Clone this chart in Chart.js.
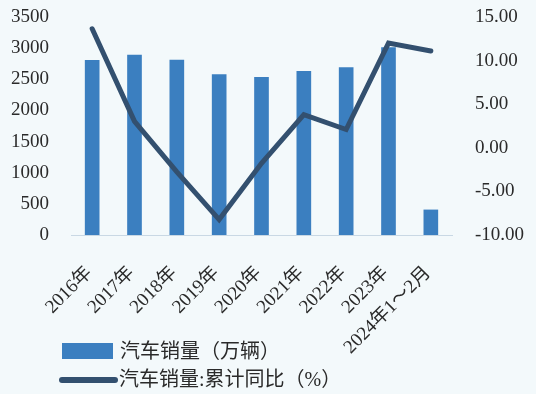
<!DOCTYPE html>
<html><head><meta charset="utf-8">
<script src="https://cdn.jsdelivr.net/npm/chart.js@4.4.1/dist/chart.umd.min.js"></script>
<style>
html,body{margin:0;padding:0;background:#f3f9fb;}
#wrap{position:relative;width:536px;height:394px;}
canvas{position:absolute;left:0;top:0;}
.lg{position:absolute;font-family:"Liberation Serif","Noto Sans CJK SC",serif;font-size:20px;color:#2a2a2a;white-space:nowrap;line-height:20px;}
.sw{position:absolute;}
</style></head>
<body>
<div id="wrap">
<canvas id="c" width="536" height="394"></canvas>
<div class="sw" style="left:62px;top:343px;width:51px;height:16px;background:#3b7fc0;"></div>
<div class="lg" style="left:120px;top:341px;">汽车销量（万辆）</div>
<div class="sw" style="left:59px;top:377px;width:59px;height:6px;border-radius:3px;background:#33506f;"></div>
<div class="lg" style="left:119px;top:369px;">汽车销量:累计同比（%）</div>
</div>
<script>
const categories = ["2016年","2017年","2018年","2019年","2020年","2021年","2022年","2023年","2024年1～2月"];
const salesValues = [2802.8, 2887.9, 2808.1, 2576.9, 2531.1, 2627.5, 2686.4, 3009.4, 402.8];
const growthValues = [13.65, 3.04, -2.76, -8.23, -1.78, 3.81, 2.1, 12.0, 11.1];
const leftTicks = [0, 500, 1000, 1500, 2000, 2500, 3000, 3500];
const rightTicks = [-10, -5, 0, 5, 10, 15];

const font = {family: '"Liberation Serif","Noto Sans CJK SC",serif', size: 19};
new Chart(document.getElementById('c'), {
  data: {
    labels: categories,
    datasets: [
      {type: 'line', label: '汽车销量:累计同比（%）', data: growthValues, yAxisID: 'y1',
       borderColor: '#33506f', borderWidth: 5, pointRadius: 0, tension: 0,
       borderCapStyle: 'round', borderJoinStyle: 'miter', order: 0},
      {type: 'bar', label: '汽车销量（万辆）', data: salesValues, yAxisID: 'y',
       backgroundColor: '#3b7fc0', barThickness: 14, order: 1}
    ]
  },
  options: {
    responsive: false, animation: false,
    layout: {padding: {top: 17, left: 0, right: 0, bottom: 0}},
    plugins: {legend: {display: false}, tooltip: {enabled: false}},
    scales: {
      x: {
        grid: {display: false, drawTicks: false},
        border: {display: true, color: '#c9d8e4', width: 1, dash: [2, 1]},
        ticks: {font: font, color: '#2a2a2a', maxRotation: 45, minRotation: 45, padding: 27, labelOffset: -3},
        afterFit: s => { s.height = 159; }
      },
      y: {
        position: 'left', min: 0, max: 3500,
        afterBuildTicks: s => { s.ticks = leftTicks.map(v => ({value: v})); },
        grid: {display: false}, border: {display: false},
        ticks: {font: font, color: '#2a2a2a', padding: 14, callback: v => String(v)},
        afterFit: s => { s.width = 71; s.paddingTop = 0; s.paddingBottom = 0; }
      },
      y1: {
        position: 'right', min: -10, max: 15,
        afterBuildTicks: s => { s.ticks = rightTicks.map(v => ({value: v})); },
        grid: {display: false}, border: {display: false},
        ticks: {font: font, color: '#2a2a2a', padding: 15, callback: v => v.toFixed(2)},
        afterFit: s => { s.width = 84; s.paddingTop = 0; s.paddingBottom = 0; }
      }
    }
  }
});
</script>
</body></html>
